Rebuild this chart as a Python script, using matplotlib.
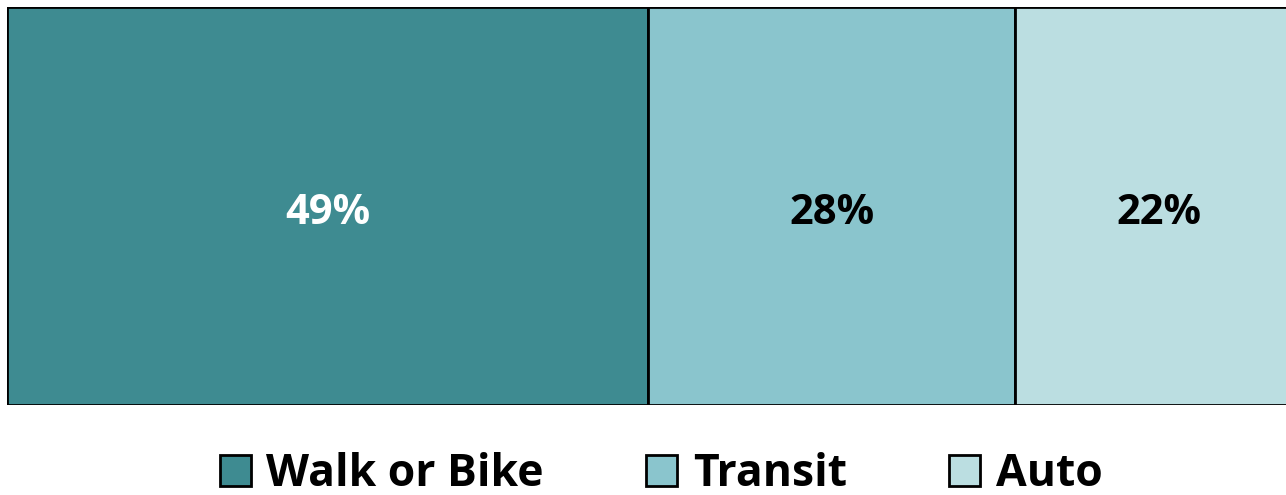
import matplotlib
matplotlib.use("Agg")
import matplotlib.pyplot as plt
from matplotlib.patches import Patch

modes = ["Walk or Bike", "Transit", "Auto"]
shares = [49, 28, 22]
colors = ["#3E8B91", "#8AC5CD", "#BBDEE1"]
label_colors = ["white", "black", "black"]

W, H = 1286, 495
fig = plt.figure(figsize=(W / 100, H / 100), dpi=100)
ax = fig.add_axes([7 / W, 1 - 405 / H, 1 - 7 / W, (405 - 7) / H])

left = 0
for mode, val, c, tc in zip(modes, shares, colors, label_colors):
    ax.barh(0, val, left=left, height=1.0, color=c, edgecolor="black",
            linewidth=2, clip_on=True)
    ax.text(left + val / 2, -0.02, f"{val}%", ha="center", va="center",
            fontsize=30, fontweight="bold", color=tc, family="Open Sans")
    left += val

ax.set_xlim(0, 97.7)
ax.set_ylim(-0.5, 0.5)
ax.axis("off")

handles = [Patch(facecolor=c, edgecolor="black", linewidth=2, label=m)
           for m, c in zip(modes, colors)]
fig.legend(handles=handles, loc="lower center", ncol=3, frameon=False,
           bbox_to_anchor=(0.514, -0.085),
           prop=dict(family="Open Sans", weight="bold", size=32),
           handlelength=0.7, handleheight=0.7, handletextpad=0.35,
           columnspacing=2.3)

fig.savefig("out.png", dpi=100, facecolor="white")
